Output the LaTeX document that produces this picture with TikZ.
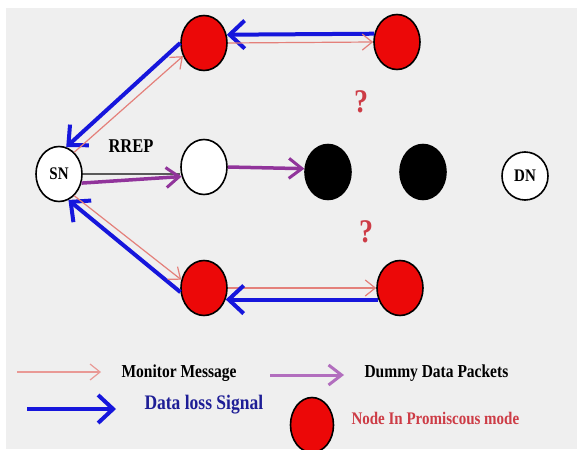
\documentclass[tikz,border=0pt]{standalone}
\usepackage{fontspec}
\setmainfont{Liberation Serif}
\usepackage{tikz}
\usetikzlibrary{shapes.geometric,arrows.meta}

\definecolor{bggray}{RGB}{239,239,239}
\definecolor{nodered}{RGB}{236,8,8}
\definecolor{sigblue}{RGB}{22,22,220}
\definecolor{monpink}{RGB}{228,128,122}
\definecolor{dumpurple}{RGB}{145,52,155}
\definecolor{legpurple}{RGB}{178,110,190}
\definecolor{txtblue}{RGB}{30,30,150}
\definecolor{txtred}{RGB}{205,60,70}
\newcommand{\tallt}[1]{\scalebox{1}[1.18]{#1}}

\begin{document}
\begin{tikzpicture}[x=1pt,y=-1pt,
    nd/.style={ellipse,draw=black,line width=1.6pt,inner sep=0pt,
        minimum width=46pt,minimum height=55pt},
    redn/.style={nd,fill=nodered},
    blackn/.style={nd,fill=black},
    whiten/.style={nd,fill=white,font=\bfseries\fontsize{15}{17}\selectfont},
    bluearr/.style={draw=sigblue,line width=4pt,
        -{Straight Barb[length=15pt,width=28pt,line width=4pt]}},
    pinkarr/.style={draw=monpink,line width=1.2pt,
        -{Straight Barb[length=10pt,width=16pt,line width=1.2pt]}},
    purparr/.style={draw=dumpurple,line width=3.5pt,
        -{Straight Barb[length=13pt,width=20pt,line width=3pt]}},
    qmark/.style={text=txtred,font=\bfseries\fontsize{28}{30}\selectfont},
    legtxt/.style={anchor=west,font=\bfseries\fontsize{15.5}{17}\selectfont}]
    \useasboundingbox (0,0) rectangle (577,449);
    \fill[white] (0,0) rectangle (577,449);
    \fill[bggray] (6,8) rectangle (577,449);

    \node[whiten] (sn) at (59,174) {\tallt{SN}};
    \node[redn] (tl) at (204,43) {};
    \node[redn] (tr) at (397,42) {};
    \node[whiten] (wh) at (204,167) {};
    \node[blackn] (bk1) at (328,172) {};
    \node[blackn] (bk2) at (423,172) {};
    \node[whiten,minimum width=46pt,minimum height=48pt] (dn) at (525,176) {\tallt{DN}};
    \node[redn] (bl) at (204,288) {};
    \node[redn] (br) at (400,288) {};

    \node[qmark] (q1) at (361,102) {\tallt{?}};
    \node[qmark] (q2) at (366,232) {\tallt{?}};
    \node[font=\bfseries\fontsize{16.5}{18}\selectfont] (rrep) at (131,146) {\tallt{RREP}};

    \draw[bluearr] (tr.160) -- (tl.20);
    \draw[pinkarr] (tl.east) -- (tr.west);
    \draw[bluearr] (tl.west) -- (sn.75);
    \draw[pinkarr] (sn.55) -- (tl.212);

    \draw[draw=black!65,line width=1.3pt] (sn.east) -- (wh.west |- sn.east);
    \draw[purparr] (sn.338) -- (wh.203);
    \draw[purparr] (wh.east) -- (bk1.172);

    \draw[bluearr] (bl.190) -- (sn.290);
    \draw[pinkarr] (sn.305) -- (bl.160);
    \draw[pinkarr] (bl.east) -- (br.west);
    \draw[bluearr] (br.208) -- (bl.332);

    \coordinate (lp1) at (17,372);
    \coordinate (lp2) at (101,372);
    \coordinate (lu1) at (270,375);
    \coordinate (lu2) at (344,375);
    \coordinate (lb1) at (27,409);
    \coordinate (lb2) at (116,409);
    \draw[pinkarr,draw=monpink!80] (lp1) -- (lp2);
    \draw[purparr,draw=legpurple,line width=3pt] (lu1) -- (lu2);
    \draw[bluearr] (lb1) -- (lb2);
    \node[legtxt] (lmon) at (118,373) {\tallt{Monitor Message}};
    \node[legtxt] (ldum) at (361,373) {\tallt{Dummy Data Packets}};
    \node[legtxt,text=txtblue,font=\bfseries\fontsize{17.5}{19}\selectfont]
        (lsig) at (141,405) {\tallt{Data loss Signal}};
    \node[redn,minimum width=43pt] (lred) at (312,425) {};
    \node[legtxt,text=txtred,font=\bfseries\fontsize{15}{17}\selectfont]
        (lpro) at (348,418) {\tallt{Node In Promiscous mode}};
\end{tikzpicture}
\end{document}
